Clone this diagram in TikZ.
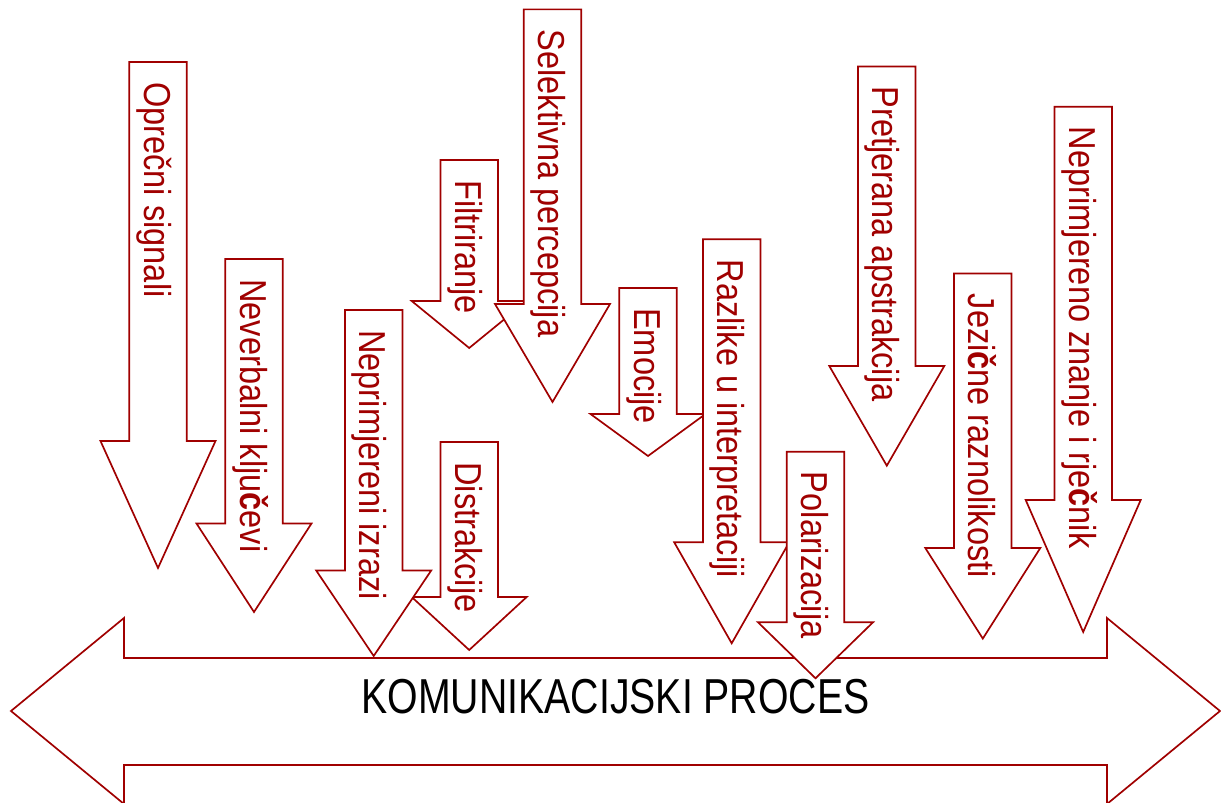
\documentclass[tikz,border=0pt]{standalone}
\usepackage{fontspec}
\setmainfont{Liberation Sans}
\usepackage{xcolor}
\usepackage{tikz}
\usetikzlibrary{positioning,calc}
\definecolor{procred}{RGB}{160,0,0}
\tikzset{
  procline/.style={draw=procred, line width=1.2pt, line join=miter, fill=white},
  proclabel/.style={text=procred, inner sep=0pt, rotate=-90, anchor=base west,
    font=\fontsize{26.7pt}{30pt}\selectfont},
  procmain/.style={text=black, inner sep=0pt, anchor=base,
    font=\fontsize{34.9pt}{38pt}\selectfont},
}
% down block arrow: centre x, shaft top, head base, tip y, node name, label
\newcommand{\procarrow}[6]{%
  \draw[procline] (#1-28.75,#2) -- (#1+28.75,#2) -- (#1+28.75,#3) -- (#1+57.5,#3)
    -- (#1,#4) -- (#1-57.5,#3) -- (#1-28.75,#3) -- cycle;
  \node[proclabel] (#5) at (#1-14,#2+20) {\scalebox{0.867}[1]{#6}};
}

\begin{document}
\begin{tikzpicture}[x=0.25mm, y=-0.25mm]
		\useasboundingbox (0,0) rectangle (1221,803);
		\clip (0,0) rectangle (1221,803);

		% Double arrow of the process
		\draw[procline] (11,711) -- (124,618) -- (124,658) -- (1107,658) -- (1107,618)
		  -- (1220,711) -- (1107,804) -- (1107,765) -- (124,765) -- (124,804) -- cycle;
		\node[procmain] (proces) at (615.5,713) {\scalebox{0.8}[1]{KOMUNIKACIJSKI PROCES}};

		% Barriers, left to right
		\procarrow{158}{62}{441}{568}{signali}{Oprečni signali}
		\procarrow{254}{259}{523.5}{612}{kljucevi}{Neverbalni klju\textbf{č}evi}
		\procarrow{469.2}{442}{597}{650}{distrakcije}{Distrakcije}
		\procarrow{373.7}{310}{570.5}{656}{izrazi}{Neprimjereni izrazi}
		\procarrow{469.2}{160}{301}{348}{filtriranje}{Filtriranje}
		\procarrow{552.5}{9.4}{304}{402}{selektivna}{Selektivna percepcija}
		\procarrow{648}{288}{414}{456}{emocije}{Emocije}
		\procarrow{731.7}{239.3}{542.3}{643.3}{razlike}{Razlike u interpretaciji}
		\procarrow{815.5}{451.7}{622.3}{678.3}{polarizacija}{Polarizacija}
		\procarrow{886.8}{66.5}{366}{465.7}{apstrakcija}{Pretjerana apstrakcija}
		\procarrow{982.8}{273.5}{548}{638.6}{jezicne}{Jezi\textbf{č}ne raznolikosti}
		\procarrow{1083.2}{106.7}{500}{632}{rjecnik}{Neprimjereno znanje i rje\textbf{č}nik}
	\end{tikzpicture}
\end{document}
